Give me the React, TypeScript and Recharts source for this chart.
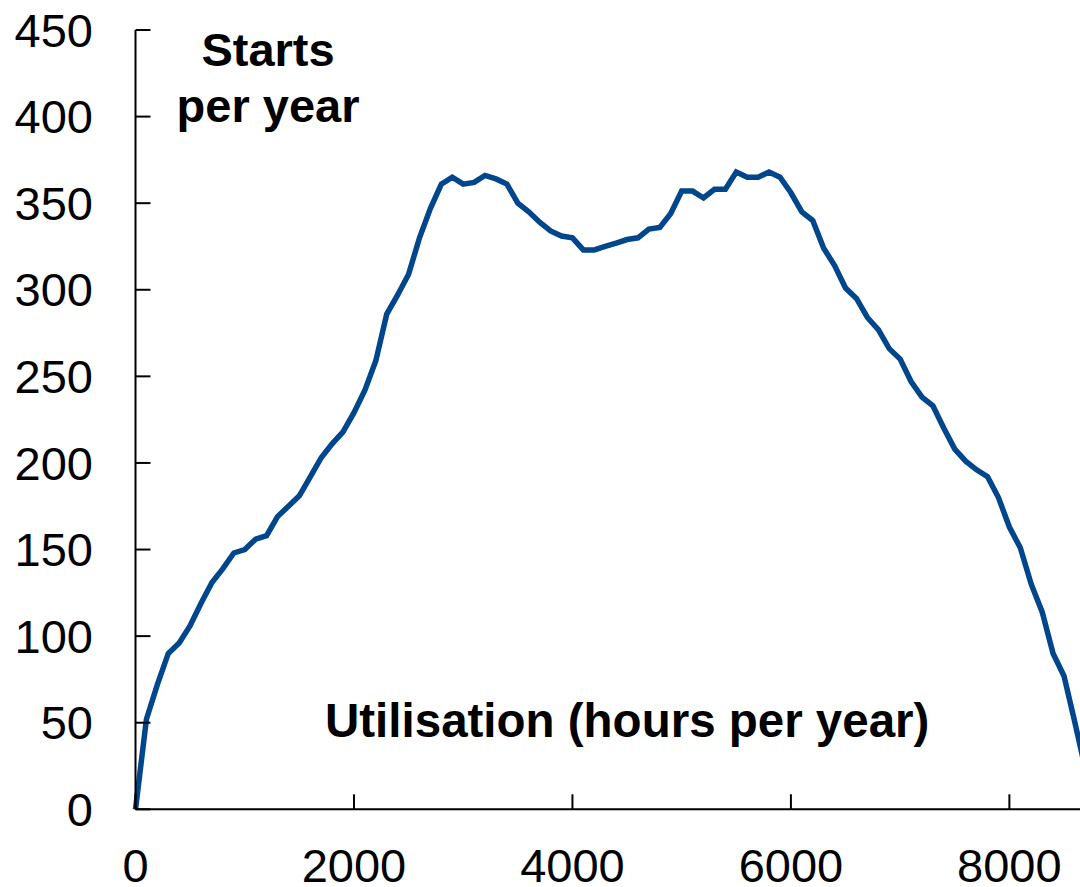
import React from 'react';
import { LineChart, Line, XAxis, YAxis } from 'recharts';

// utilisation in hours per year, one point every 100 hours
const hours = [
  0, 100, 200, 300, 400, 500, 600, 700, 800, 900,
  1000, 1100, 1200, 1300, 1400, 1500, 1600, 1700, 1800, 1900,
  2000, 2100, 2200, 2300, 2400, 2500, 2600, 2700, 2800, 2900,
  3000, 3100, 3200, 3300, 3400, 3500, 3600, 3700, 3800, 3900,
  4000, 4100, 4200, 4300, 4400, 4500, 4600, 4700, 4800, 4900,
  5000, 5100, 5200, 5300, 5400, 5500, 5600, 5700, 5800, 5900,
  6000, 6100, 6200, 6300, 6400, 6500, 6600, 6700, 6800, 6900,
  7000, 7100, 7200, 7300, 7400, 7500, 7600, 7700, 7800, 7900,
  8000, 8100, 8200, 8300, 8400, 8500, 8600, 8700,
];

const starts = [
  0, 52, 72, 90, 96, 106, 119, 131, 139, 148,
  150, 156, 158, 169, 175, 181, 192, 203, 211, 218,
  229, 242, 259, 286, 297, 309, 330, 347, 361, 365,
  361, 362, 366, 364, 361, 350, 345, 339, 334, 331,
  330, 323, 323, 325, 327, 329, 330, 335, 336, 344,
  357, 357, 353, 358, 358, 368, 365, 365, 368, 365,
  356, 345, 340, 324, 314, 301, 295, 284, 277, 266,
  260, 247, 238, 233, 220, 208, 201, 196, 192, 180,
  163, 151, 130, 114, 90, 77, 50, 22,
];

const xTicks = [0, 2000, 4000, 6000, 8000];
const yTicks = [0, 50, 100, 150, 200, 250, 300, 350, 400, 450];

const data = hours.map((h, i) => ({ hours: h, starts: starts[i] }));

const FONT = 'Liberation Sans, Arial, sans-serif';

export default function App() {
  return (
    <div
      style={{
        position: 'fixed',
        left: 0,
        top: 0,
        width: 1080,
        height: 887,
        overflow: 'hidden',
        background: '#fff',
      }}
    >
      <LineChart
        width={1100}
        height={887}
        data={data}
        margin={{ top: 30, right: 7.6, left: 0, bottom: 17.7 }}
      >
        <XAxis
          dataKey="hours"
          type="number"
          domain={[0, 8760]}
          ticks={xTicks}
          height={60}
          tickSize={-15}
          tickMargin={54.5}
          axisLine={{ stroke: '#000', strokeWidth: 2 }}
          tickLine={{ stroke: '#000', strokeWidth: 2 }}
          tick={{ fill: '#000', fontSize: 47, fontFamily: FONT }}
          interval={0}
        />
        <YAxis
          type="number"
          domain={[0, 450]}
          ticks={yTicks}
          width={135.5}
          tickSize={-15}
          tickMargin={57.5}
          axisLine={{ stroke: '#000', strokeWidth: 2 }}
          tickLine={{ stroke: '#000', strokeWidth: 2 }}
          tick={{ fill: '#000', fontSize: 47, fontFamily: FONT }}
          interval={0}
        />
        <Line
          type="linear"
          dataKey="starts"
          stroke="#00468c"
          strokeWidth={5.5}
          dot={false}
          isAnimationActive={false}
        />
        <text x={268} y={66} textAnchor="middle" fontSize={47} fontWeight="bold" fontFamily={FONT} fill="#000">
          Starts
        </text>
        <text x={268} y={122} textAnchor="middle" fontSize={47} fontWeight="bold" fontFamily={FONT} fill="#000">
          per year
        </text>
        <text x={325} y={737} textAnchor="start" fontSize={47.5} fontWeight="bold" fontFamily={FONT} fill="#000">
          Utilisation (hours per year)
        </text>
      </LineChart>
    </div>
  );
}
